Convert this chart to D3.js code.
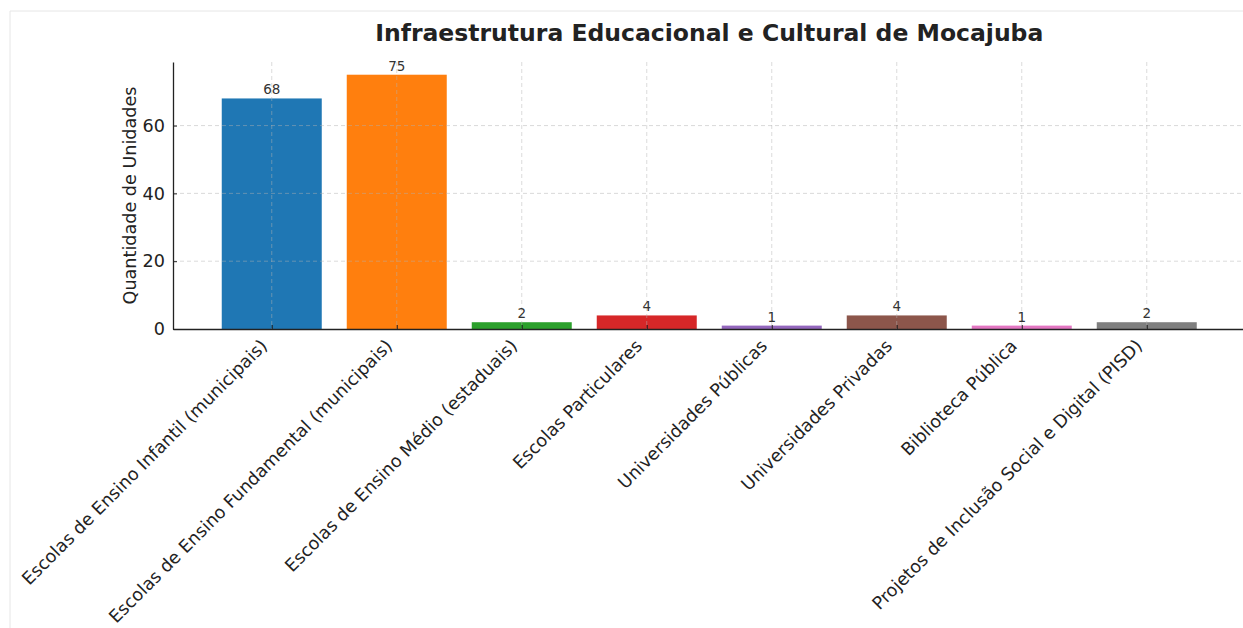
<!DOCTYPE html>
<html><head><meta charset="utf-8">
<script src="https://cdn.jsdelivr.net/npm/d3@7"></script>
<style>
html,body{margin:0;padding:0;background:#fff;}
svg{display:block;font-family:"DejaVu Sans",sans-serif;}
</style></head>
<body>
<svg id="chart" width="1243" height="628"></svg>
<script>
const categories = [
  "Escolas de Ensino Infantil (municipais)",
  "Escolas de Ensino Fundamental (municipais)",
  "Escolas de Ensino Médio (estaduais)",
  "Escolas Particulares",
  "Universidades Públicas",
  "Universidades Privadas",
  "Biblioteca Pública",
  "Projetos de Inclusão Social e Digital (PISD)"
];
const values = [68, 75, 2, 4, 1, 4, 1, 2];
const colors = ["#1f77b4","#ff7f0e","#2ca02c","#d62728","#9467bd","#8c564b","#e377c2","#7f7f7f"];
const yTicks = [0, 20, 40, 60];
const title = "Infraestrutura Educacional e Cultural de Mocajuba";
const yLabel = "Quantidade de Unidades";

(function(){
const svg = d3.select("#chart");
const W = 1243, H = 628;
const mLeft = 173, mRight = 1245.5, mBottom = 329, mTop = 62;
const fs = 17.6;

svg.append("path").attr("d", `M10,${H} L10,11 L${W},11`).attr("fill","none").attr("stroke","#e6e6e6").attr("stroke-width",1);

const n = categories.length;
const x = d3.scaleLinear().domain([-0.79, n - 1 + 0.79]).range([mLeft, mRight]);
const y = d3.scaleLinear().domain([0, 78.75]).range([mBottom, mTop]);
const barW = x(0.4) - x(-0.4);

const g = svg.append("g");

g.selectAll("rect.bar").data(values).enter().append("rect")
  .attr("class","bar")
  .attr("x",(d,i)=>x(i)-barW/2)
  .attr("width",barW)
  .attr("y",d=>y(d))
  .attr("height",d=>y(0)-y(d))
  .attr("fill",(d,i)=>colors[i]);

const grid = g.append("g").attr("stroke","#b0b0b0").attr("stroke-opacity",0.6).attr("stroke-dasharray","4,3").attr("stroke-width",0.8);
grid.selectAll("line.h").data(yTicks.filter(t=>t>0)).enter().append("line")
  .attr("x1",mLeft).attr("x2",mRight).attr("y1",d=>y(d)).attr("y2",d=>y(d));
grid.selectAll("line.v").data(d3.range(n)).enter().append("line")
  .attr("x1",d=>x(d)).attr("x2",d=>x(d)).attr("y1",mTop).attr("y2",mBottom);

g.selectAll("text.val").data(values).enter().append("text")
  .attr("x",(d,i)=>x(i)).attr("y",d=>y(d)-4)
  .attr("text-anchor","middle").attr("font-size",13.5).attr("fill","#333")
  .text(d=>d);

const yAxis = d3.axisLeft(y).tickValues(yTicks).tickSizeInner(-4).tickSizeOuter(0).tickPadding(8);
const ya = svg.append("g").attr("transform",`translate(${mLeft},0)`).call(yAxis);
ya.select(".domain").attr("stroke","#222").attr("stroke-width",1.3);
ya.selectAll(".tick line").attr("stroke","#222");
ya.selectAll(".tick text").attr("font-size",fs).attr("fill","#222").attr("font-family","DejaVu Sans");

const xAxis = d3.axisBottom(x).tickValues(d3.range(n)).tickSizeInner(-4).tickSizeOuter(0).tickFormat(i=>categories[i]);
const xa = svg.append("g").attr("transform",`translate(0,${mBottom})`).call(xAxis);
xa.select(".domain").attr("stroke","#222").attr("stroke-width",1.3);
xa.selectAll(".tick line").attr("stroke","#222");
xa.selectAll(".tick text")
  .attr("font-size",fs).attr("fill","#222").attr("font-family","DejaVu Sans")
  .attr("text-anchor","end")
  .attr("x",0).attr("y",0).attr("dy",0)
  .attr("transform","translate(-4,18) rotate(-45)");

svg.append("text").attr("transform",`translate(136,${(mTop+mBottom)/2}) rotate(-90)`)
  .attr("text-anchor","middle").attr("font-size",fs).attr("fill","#222").text(yLabel);

svg.append("text").attr("x",(mLeft+mRight)/2).attr("y",41).attr("text-anchor","middle")
  .attr("font-size",23.5).attr("font-weight","bold").attr("fill","#222").text(title);
})();
</script>
</body></html>
